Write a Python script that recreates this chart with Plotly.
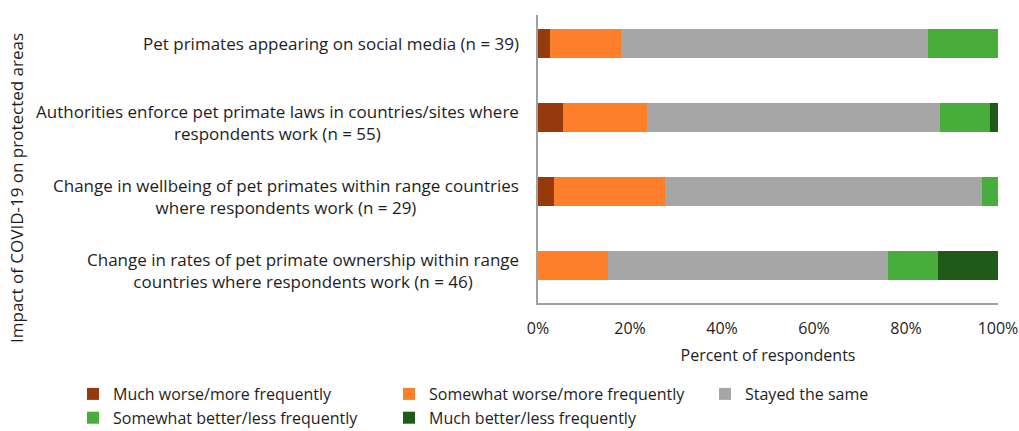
import plotly.graph_objects as go

categories = [
    "Pet primates appearing on social media (n = 39)",
    "Authorities enforce pet primate laws in countries/sites where<br>respondents work (n = 55)",
    "Change in wellbeing of pet primates within range countries<br>where respondents work (n = 29)",
    "Change in rates of pet primate ownership within range<br>countries where respondents work (n = 46)",
]
series_names = [
    "Much worse/more frequently",
    "Somewhat worse/more frequently",
    "Stayed the same",
    "Somewhat better/less frequently",
    "Much better/less frequently",
]
much_worse = [2.6, 5.5, 3.4, 0.0]
somewhat_worse = [15.4, 18.2, 24.1, 15.2]
stayed_same = [66.7, 63.6, 69.0, 60.9]
somewhat_better = [15.4, 10.9, 3.4, 10.9]
much_better = [0.0, 1.8, 0.0, 13.0]
x_ticks = [0, 20, 40, 60, 80, 100]
x_tick_labels = ["0%", "20%", "40%", "60%", "80%", "100%"]

colors = ["#953a0c", "#fd7f2a", "#a6a6a6", "#49ad3c", "#1f5a19"]
values = [much_worse, somewhat_worse, stayed_same, somewhat_better, much_better]

FONT = "Open Sans"
FS = 16
FS_CAT = 17
TXT = "#1e1e1e"

fig = go.Figure()
for name, vals, col in zip(series_names, values, colors):
    fig.add_trace(go.Bar(
        y=categories, x=vals, name=name, orientation="h",
        marker=dict(color=col, line=dict(width=0)), width=0.39,
        hoverinfo="x+name",
    ))

W, H = 1019, 431
L, R, T, B = 538, 21, 15, 128
pw, ph = W - L - R, H - T - B

def px_x(p):
    return (p - L) / pw

def px_y(p):
    return (H - B - p) / ph

annotations = []
for c in categories:
    two = "<br>" in c
    annotations.append(dict(
        x=px_x(521), xref="paper", y=c, yref="y",
        text=c, showarrow=False, xanchor="right", yanchor="middle",
        align="center", yshift=-5 if two else 0,
        font=dict(family=FONT, size=FS_CAT, color=TXT),
    ))
annotations.append(dict(
    x=px_x(16), xref="paper", y=px_y(188), yref="paper",
    text="Impact of COVID-19 on protected areas", textangle=-90,
    showarrow=False, xanchor="center", yanchor="middle",
    font=dict(family=FONT, size=FS_CAT, color=TXT),
))

fig.update_layout(
    width=W, height=H,
    margin=dict(l=L, r=R, t=T, b=B, autoexpand=False),
    barmode="stack",
    plot_bgcolor="white", paper_bgcolor="white",
    font=dict(family=FONT, size=FS, color=TXT),
    showlegend=True,
    legend=dict(
        orientation="h", x=px_x(73), xanchor="left",
        y=px_y(377), yanchor="top",
        entrywidth=271, entrywidthmode="pixels",
        font=dict(family=FONT, size=FS, color=TXT),
        traceorder="normal", bgcolor="rgba(0,0,0,0)",
    ),
    xaxis=dict(
        range=[0, 100], tickvals=x_ticks, ticktext=x_tick_labels,
        showgrid=False, zeroline=False, showline=True,
        linecolor="#a0a0a0", linewidth=1.5, ticks="",
        ticklabelstandoff=10,
        tickfont=dict(family=FONT, size=FS, color=TXT),
        title=dict(text="Percent of respondents", standoff=12,
                   font=dict(family=FONT, size=FS, color=TXT)),
        fixedrange=True,
    ),
    yaxis=dict(
        type="category", categoryorder="array", categoryarray=categories,
        range=[3.507, -0.385], showticklabels=False, showgrid=False,
        zeroline=False, showline=True, linecolor="#a0a0a0", linewidth=1.5,
        ticks="", fixedrange=True,
    ),
    annotations=annotations,
)

fig.write_html(
    "out.html",
    config={"displayModeBar": False},
    post_script="document.body.style.margin='0px';document.body.style.overflow='hidden';",
)
